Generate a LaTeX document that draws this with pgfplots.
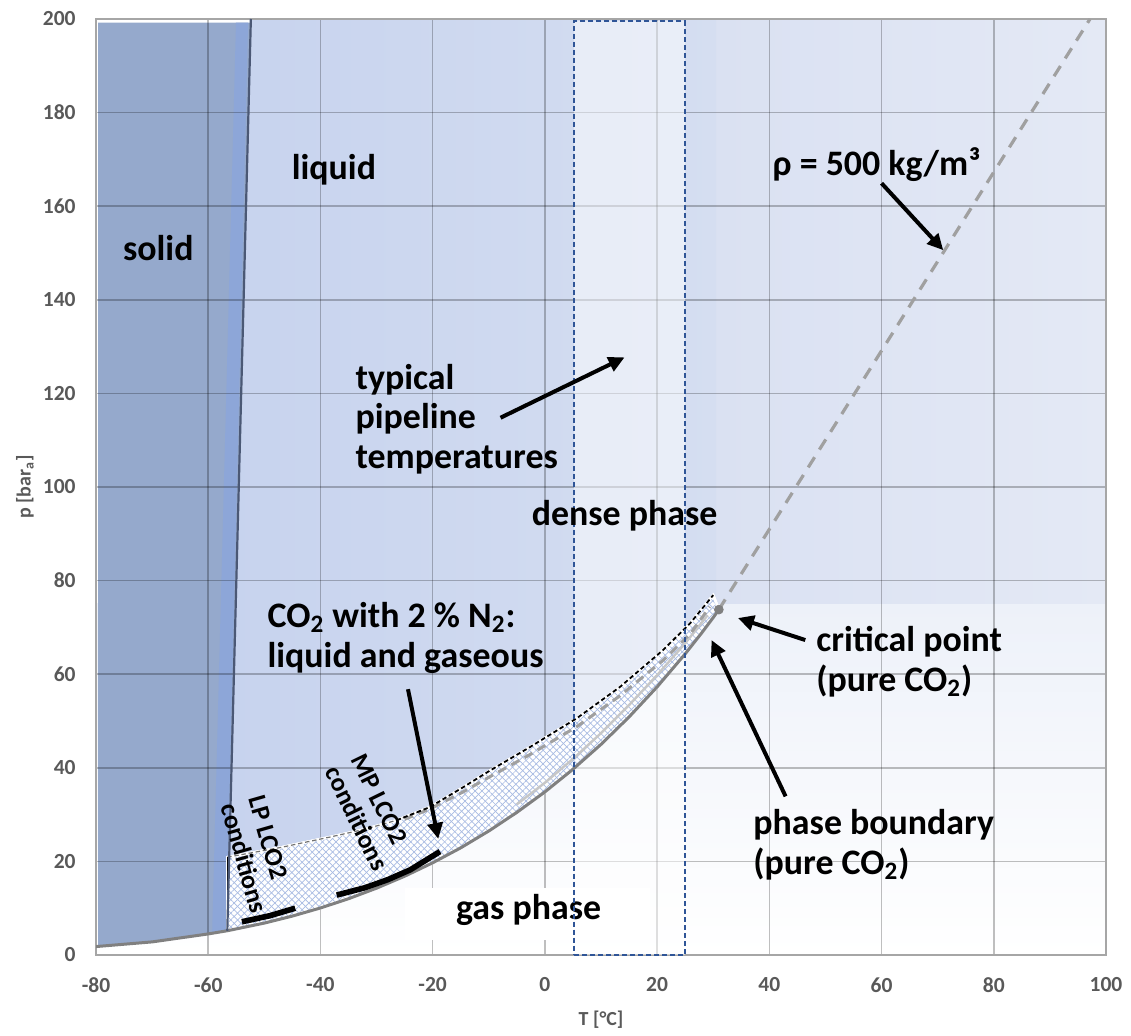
\documentclass[border=0pt]{standalone}
\usepackage{fontspec}
\setmainfont{Carlito}
\usepackage{pgfplots}
\pgfplotsset{compat=1.18}
\usetikzlibrary{patterns.meta,arrows.meta}
\definecolor{tickc}{HTML}{595959}
\definecolor{solidc}{HTML}{95A9CC}
\definecolor{stripc}{HTML}{8DA6D8}
\definecolor{meltc}{HTML}{4B5875}
\definecolor{liqL}{HTML}{C7D3EE}
\definecolor{liqR}{HTML}{D5DEF1}
\definecolor{supL}{HTML}{DAE1F2}
\definecolor{supR}{HTML}{E4E9F5}
\definecolor{lowtop}{HTML}{EDF1F9}
\definecolor{hatchc}{HTML}{A8BBE3}
\definecolor{purec}{HTML}{808080}
\definecolor{dewc}{HTML}{A0A0A0}
\definecolor{boxc}{HTML}{2F5597}
\tikzset{lab/.style={font=\fontsize{18}{20}\selectfont\bfseries},
 smlab/.style={font=\fontsize{13}{14.5}\selectfont\bfseries},
 arr/.style={line width=2bp, -{Triangle[length=8bp,width=7.5bp]}}}
\begin{document}
\begin{tikzpicture}
\begin{axis}[
 at={(0,0)}, anchor=south west,
 set layers,
 scale only axis, width=505bp, height=468bp,
 xmin=-80, xmax=100, ymin=0, ymax=200,
 xtick distance=20, ytick distance=20,
 grid=major, major grid style={line width=0.75bp, draw=black, opacity=0.25},
 major tick length=0pt,
 axis line style={draw=black!35, line width=0.75bp},
 /pgf/number format/assume math mode=true,
 ticklabel style={font=\fontsize{10.8}{12}\selectfont\bfseries, text=tickc},
 xticklabel style={anchor=center, yshift=-15bp},
 yticklabel style={anchor=east, inner sep=0pt, xshift=-10bp},
 xlabel={T [°C]}, ylabel={p [bar\textsubscript{a}]},
 label style={font=\fontsize{10}{12}\selectfont\bfseries, text=tickc},
 xlabel style={at={(axis description cs:0.5,-0.0694)}, anchor=center},
 ylabel style={at={(axis description cs:-0.0703,0.5)}, anchor=center},
]
% ---------- background regions ----------
\addplot[draw=none, on layer=axis background, top color=lowtop, bottom color=white]
 coordinates {(-80,0)(100,0)(100,75)(-80,75)} -- cycle;
\addplot[draw=none, on layer=axis background, left color=supL, right color=supR]
 coordinates {(30.5,75)(100,75)(100,200)(30.5,200)} -- cycle;
\addplot[draw=none, on layer=axis background, left color=liqL, right color=liqR]
 coordinates {(-56.6,5.18)(-52.4,200)(30.5,200)(30.5,74.6)(31,73.8)(30,72.1)(28,68.9)(25,64.34)(20,57.29)(15,50.86)(10,45.0)(5,39.69)(0,34.85)(-5,30.47)(-10,26.49)(-15,22.9)(-20,19.7)(-25,16.83)(-30,14.28)(-35,12.02)(-40,10.05)(-45,8.32)(-50,6.82)} -- cycle;
\addplot[draw=none, on layer=axis background, fill=solidc]
 coordinates {(-79.6,1.9)(-70,2.8)(-60,4.5)(-56.6,5.18)(-52.4,199.2)(-79.6,199.2)} -- cycle;
\addplot[draw=none, on layer=axis background, fill=stripc]
 coordinates {(-59.3,4.6)(-56.8,5.15)(-52.9,199.2)(-55.05,199.2)} -- cycle;
% ---------- pipeline box fill ----------
\addplot[draw=none, fill=white, fill opacity=0.5]
 coordinates {(5.2,0)(24.9,0)(24.9,199.6)(5.2,199.6)} -- cycle;
% ---------- two-phase region CO2 + 2% N2 (hatched) ----------
\addplot[draw=white, line width=1.2bp, fill=white,
 postaction={pattern={Lines[angle=45,distance=2.4bp,line width=0.35bp]}, pattern color=hatchc},
 postaction={pattern={Lines[angle=-45,distance=2.4bp,line width=0.35bp]}, pattern color=hatchc}]
 coordinates {(-56.6,5.18)(-56.6,20.9)(-47,23.0)(-38.3,25.2)(-32,26.9)(-26.4,28.8)(-20.5,31.6)(-14.5,35.9)(-9.8,39.4)(-2.7,44.4)(5.7,50.6)(13.4,57.3)(21.1,65.2)(25.9,70.9)(30.0,76.9)(31,73.8)(30,72.1)(28,68.9)(25,64.34)(20,57.29)(15,50.86)(10,45.0)(5,39.69)(0,34.85)(-5,30.47)(-10,26.49)(-15,22.9)(-20,19.7)(-25,16.83)(-30,14.28)(-35,12.02)(-40,10.05)(-45,8.32)(-50,6.82)} -- cycle;
% ---------- curves ----------
% faint line above the pure boundary
\addplot[black!22, line width=1.2bp]
 coordinates {(-5,32.2)(0,36.8)(5,41.9)(10,47.4)(15,53.4)(20,59.8)(25,66.6)(29,72.6)};
% gray dashed line under the bubble curve
\addplot[dewc, line width=1.5bp, dash pattern=on 4.5bp off 3bp]
 coordinates {(-25,29.0)(-20.5,31.2)(-14.5,34.9)(-9.8,38.1)(-2.7,42.8)(5.7,48.8)(13.4,55.4)(21.1,63.0)(25.9,68.6)(29.4,74.4)};
% upper boundary (thin dashed at low T, black dashed at higher T)
\addplot[black!55, line width=0.6bp, dash pattern=on 2.2bp off 1.4bp]
 coordinates {(-56.6,20.9)(-47,23.0)(-38.3,25.2)(-32,26.9)(-26.4,28.8)(-22,30.8)};
\addplot[black, line width=0.9bp, dash pattern=on 2.2bp off 1.4bp]
 coordinates {(-26.4,28.8)(-20.5,31.6)(-14.5,35.9)(-9.8,39.4)(-2.7,44.4)(5.7,50.6)(13.4,57.3)(21.1,65.2)(25.9,70.9)(30.0,76.9)};
\addplot[purec, line width=1.5bp]
 coordinates {(-80,1.8)(-70,2.8)(-60,4.5)(-56.6,5.18)(-50,6.82)(-45,8.32)(-40,10.05)(-35,12.02)(-30,14.28)(-25,16.83)(-20,19.7)(-15,22.9)(-10,26.49)(-5,30.47)(0,34.85)(5,39.69)(10,45.0)(15,50.86)(20,57.29)(25,64.34)(28,68.9)(30,72.1)(31,73.8)};
\addplot[black, line width=0.6bp] coordinates {(-56.6,5.18)(-56.6,20.9)};
\addplot[meltc, line width=1.1bp] coordinates {(-56.6,5.18)(-52.4,200)};
\addplot[dewc, line width=1.6bp, dash pattern=on 6bp off 4.5bp] coordinates {(31,73.8)(97.15,200)};
\addplot[only marks, mark=*, mark size=2.2bp, draw=purec, fill=purec] coordinates {(31,73.8)};
% LP / MP conditions
\addplot[black, line width=2.8bp] coordinates {(-54.0,7.1)(-49,8.4)(-44.5,10.0)};
\addplot[black, line width=2.8bp] coordinates {(-37.1,12.8)(-32,14.4)(-28,16.1)(-24,18.2)(-18.7,22.1)};
% ---------- labels ----------
\node[fill=white, minimum width=122.5bp, minimum height=26bp, inner sep=0pt] at (axis cs:-3.1,8.75) {};
\node[lab] at (axis cs:-2.9,9.6) {gas phase};
\addplot[boxc, line width=1bp, dash pattern=on 2.5bp off 1.5bp]
 coordinates {(5.2,0)(24.9,0)(24.9,199.6)(5.2,199.6)} -- cycle;
\node[lab] at (axis cs:-68.9,151) {solid};
\node[lab] at (axis cs:-37.6,167.8) {liquid};
\node[lab] at (axis cs:59.1,168.8) {ρ = 500 kg/m³};
\node[lab, anchor=west, align=left, inner sep=0pt] at (axis cs:-33.8,114.5) {typical\\pipeline\\temperatures};
\node[lab] at (axis cs:14.2,93.9) {dense phase};
\node[lab, anchor=west, align=left, inner sep=0pt] at (axis cs:-49.5,67.7) {CO\textsubscript{2} with 2 \% N\textsubscript{2}:\\liquid and gaseous};
\node[lab, anchor=west, align=left, inner sep=0pt] at (axis cs:48.3,62.6) {critical point\\(pure CO\textsubscript{2})};
\node[lab, anchor=west, align=left, inner sep=0pt] at (axis cs:37.1,23.6) {phase boundary\\(pure CO\textsubscript{2})};
\node[smlab, rotate=-74, align=left, inner sep=0pt] at (axis cs:-51.13,21.5) {LP LCO2\\conditions};
\node[smlab, rotate=-64, align=left, inner sep=0pt] at (axis cs:-31.26,30.5) {MP LCO2\\conditions};
% ---------- arrows ----------
\draw[arr] (axis cs:-7.9,114.8) -- (axis cs:14.2,127.7);
\draw[arr] (axis cs:60.0,164.9) -- (axis cs:71.0,150.6);
\draw[arr] (axis cs:46.4,67.3) -- (axis cs:34.4,72.0);
\draw[arr] (axis cs:42.9,33.9) -- (axis cs:29.7,67.3);
\draw[arr] (axis cs:-24.4,56.8) -- (axis cs:-19.0,24.8);
\end{axis}
\path (-48bp,-37.5bp) rectangle (517.5bp,477.5bp);
\end{tikzpicture}
\end{document}
